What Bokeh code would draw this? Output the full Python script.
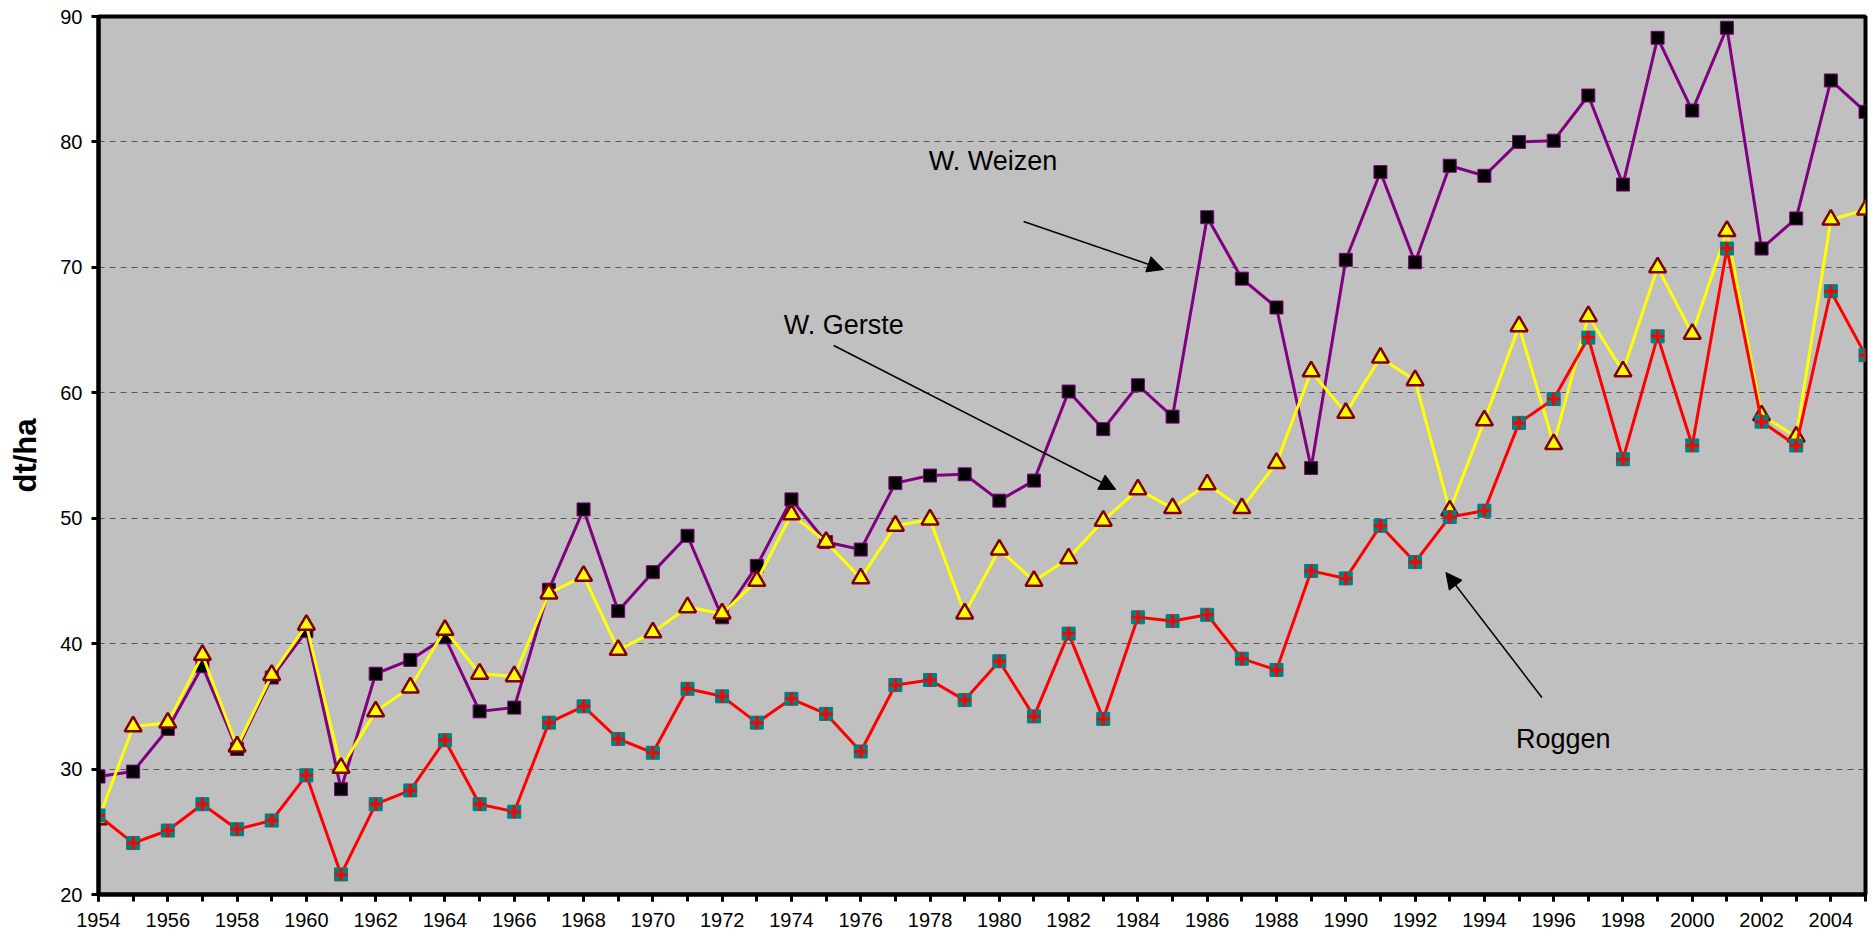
from bokeh.plotting import figure
from bokeh.models import Range1d, FixedTicker, Arrow, NormalHead, Label, ColumnDataSource
from bokeh.embed import file_html
from bokeh.resources import INLINE

years = list(range(1954, 2006))
weizen = [29.4, 29.8, 33.2, 38.2, 31.6, 37.3, 41.0, 28.4, 37.6, 38.7,
          40.5, 34.6, 34.9, 44.3, 50.7, 42.6, 45.7, 48.6, 42.1, 46.2,
          51.5, 48.1, 47.5, 52.8, 53.4, 53.5, 51.4, 53.0, 60.1, 57.1,
          60.6, 58.1, 74.0, 69.1, 66.8, 54.0, 70.6, 77.6, 70.4, 78.1,
          77.3, 80.0, 80.1, 83.7, 76.6, 88.3, 82.5, 89.1, 71.5, 73.9,
          84.9, 82.4]
gerste = [26.0, 33.4, 33.7, 39.1, 31.8, 37.5, 41.5, 30.1, 34.6, 36.5,
          41.1, 37.6, 37.4, 44.0, 45.4, 39.5, 40.9, 42.9, 42.4, 45.0,
          50.3, 48.1, 45.2, 49.4, 49.9, 42.4, 47.5, 45.0, 46.8, 49.8,
          52.3, 50.8, 52.7, 50.8, 54.4, 61.7, 58.4, 62.8, 61.0, 50.6,
          57.8, 65.3, 55.9, 66.1, 61.7, 70.0, 64.7, 72.9, 58.2, 56.5,
          73.8, 74.6]
roggen = [26.3, 24.1, 25.1, 27.2, 25.2, 25.9, 29.5, 21.6, 27.2, 28.3,
          32.3, 27.2, 26.6, 33.7, 35.0, 32.4, 31.3, 36.4, 35.8, 33.7,
          35.6, 34.4, 31.4, 36.7, 37.1, 35.5, 38.6, 34.2, 40.8, 34.0,
          42.1, 41.8, 42.3, 38.8, 37.9, 45.8, 45.2, 49.4, 46.5, 50.1,
          50.6, 57.6, 59.5, 64.4, 54.7, 64.5, 55.8, 71.5, 57.7, 55.8,
          68.1, 63.0]

y_ticks = [20, 30, 40, 50, 60, 70, 80, 90]
x_label_ticks = list(range(1954, 2006, 2))
y_label = "dt/ha"
annotations = [
    # text, text x, text y, arrow start x, y, arrow end x, y
    ("W. Weizen", 1977.96, 78.5, 1980.70, 73.66, 1984.74, 69.83),
    ("W. Gerste", 1973.78, 65.4, 1975.22, 63.77, 1983.36, 52.29),
    ("Roggen", 1994.91, 32.4, 1995.66, 35.71, 1992.89, 45.67),
]

FONT = "Liberation Sans"

src = ColumnDataSource(dict(year=years, weizen=weizen, gerste=gerste, roggen=roggen))

p = figure(width=1872, height=938, output_backend="svg", toolbar_location=None,
           x_range=Range1d(1954, 2005), y_range=Range1d(20, 90),
           min_border_left=98, min_border_right=7, min_border_top=16, min_border_bottom=44)

p.background_fill_color = "#C0C0C0"
p.border_fill_color = "white"
p.outline_line_color = "black"
p.outline_line_width = 4

# axes
p.xaxis.ticker = FixedTicker(ticks=x_label_ticks, minor_ticks=years)
p.yaxis.ticker = FixedTicker(ticks=y_ticks, minor_ticks=[])
for ax in (p.xaxis[0], p.yaxis[0]):
    ax.axis_line_color = "black"
    ax.axis_line_width = 4
    ax.major_tick_line_color = "black"
    ax.major_tick_line_width = 3
    ax.major_tick_in = 0
    ax.major_tick_out = 7
    ax.minor_tick_line_color = "black"
    ax.minor_tick_line_width = 3
    ax.minor_tick_in = 0
    ax.minor_tick_out = 7
    ax.major_label_text_font = FONT
    ax.major_label_text_font_size = "20px"
    ax.major_label_text_color = "black"
p.xaxis.major_label_standoff = 11
p.yaxis.major_label_standoff = 9
p.yaxis.axis_label = y_label
p.yaxis.axis_label_text_font = FONT
p.yaxis.axis_label_text_font_style = "bold"
p.yaxis.axis_label_text_font_size = "31px"
p.yaxis.axis_label_text_color = "black"
p.yaxis.axis_label_standoff = 14

p.xgrid.visible = False
p.ygrid.ticker = FixedTicker(ticks=y_ticks[1:-1])
p.ygrid.grid_line_color = "#5a5a5a"
p.ygrid.grid_line_width = 1
p.ygrid.grid_line_dash = "6 5"

# series
p.line("year", "weizen", source=src, line_color="#800080", line_width=3)
p.scatter("year", "weizen", source=src, marker="square", size=13,
          fill_color="black", line_color="#800080", line_width=1)

p.line("year", "gerste", source=src, line_color="#FFFF00", line_width=3)
p.scatter("year", "gerste", source=src, marker="triangle", size=17,
          fill_color="#FFFF00", line_color="#800000", line_width=2.5)

p.line("year", "roggen", source=src, line_color="#FF0000", line_width=3)
p.scatter("year", "roggen", source=src, marker="square", size=13,
          fill_color="#008080", line_color="#008080", line_width=1)
p.scatter("year", "roggen", source=src, marker="cross", size=13,
          line_color="#FF0000", line_width=3)

for text, tx, ty, xs, ys, xe, ye in annotations:
    p.add_layout(Label(x=tx, y=ty, text=text, text_font=FONT,
                       text_font_size="27px", text_color="black",
                       text_baseline="alphabetic", text_align="left"))
    p.add_layout(Arrow(x_start=xs, y_start=ys, x_end=xe, y_end=ye,
                       line_color="black", line_width=1.5,
                       end=NormalHead(size=16, fill_color="black", line_color="black")))

open("out.html", "w").write(file_html(p, INLINE))
